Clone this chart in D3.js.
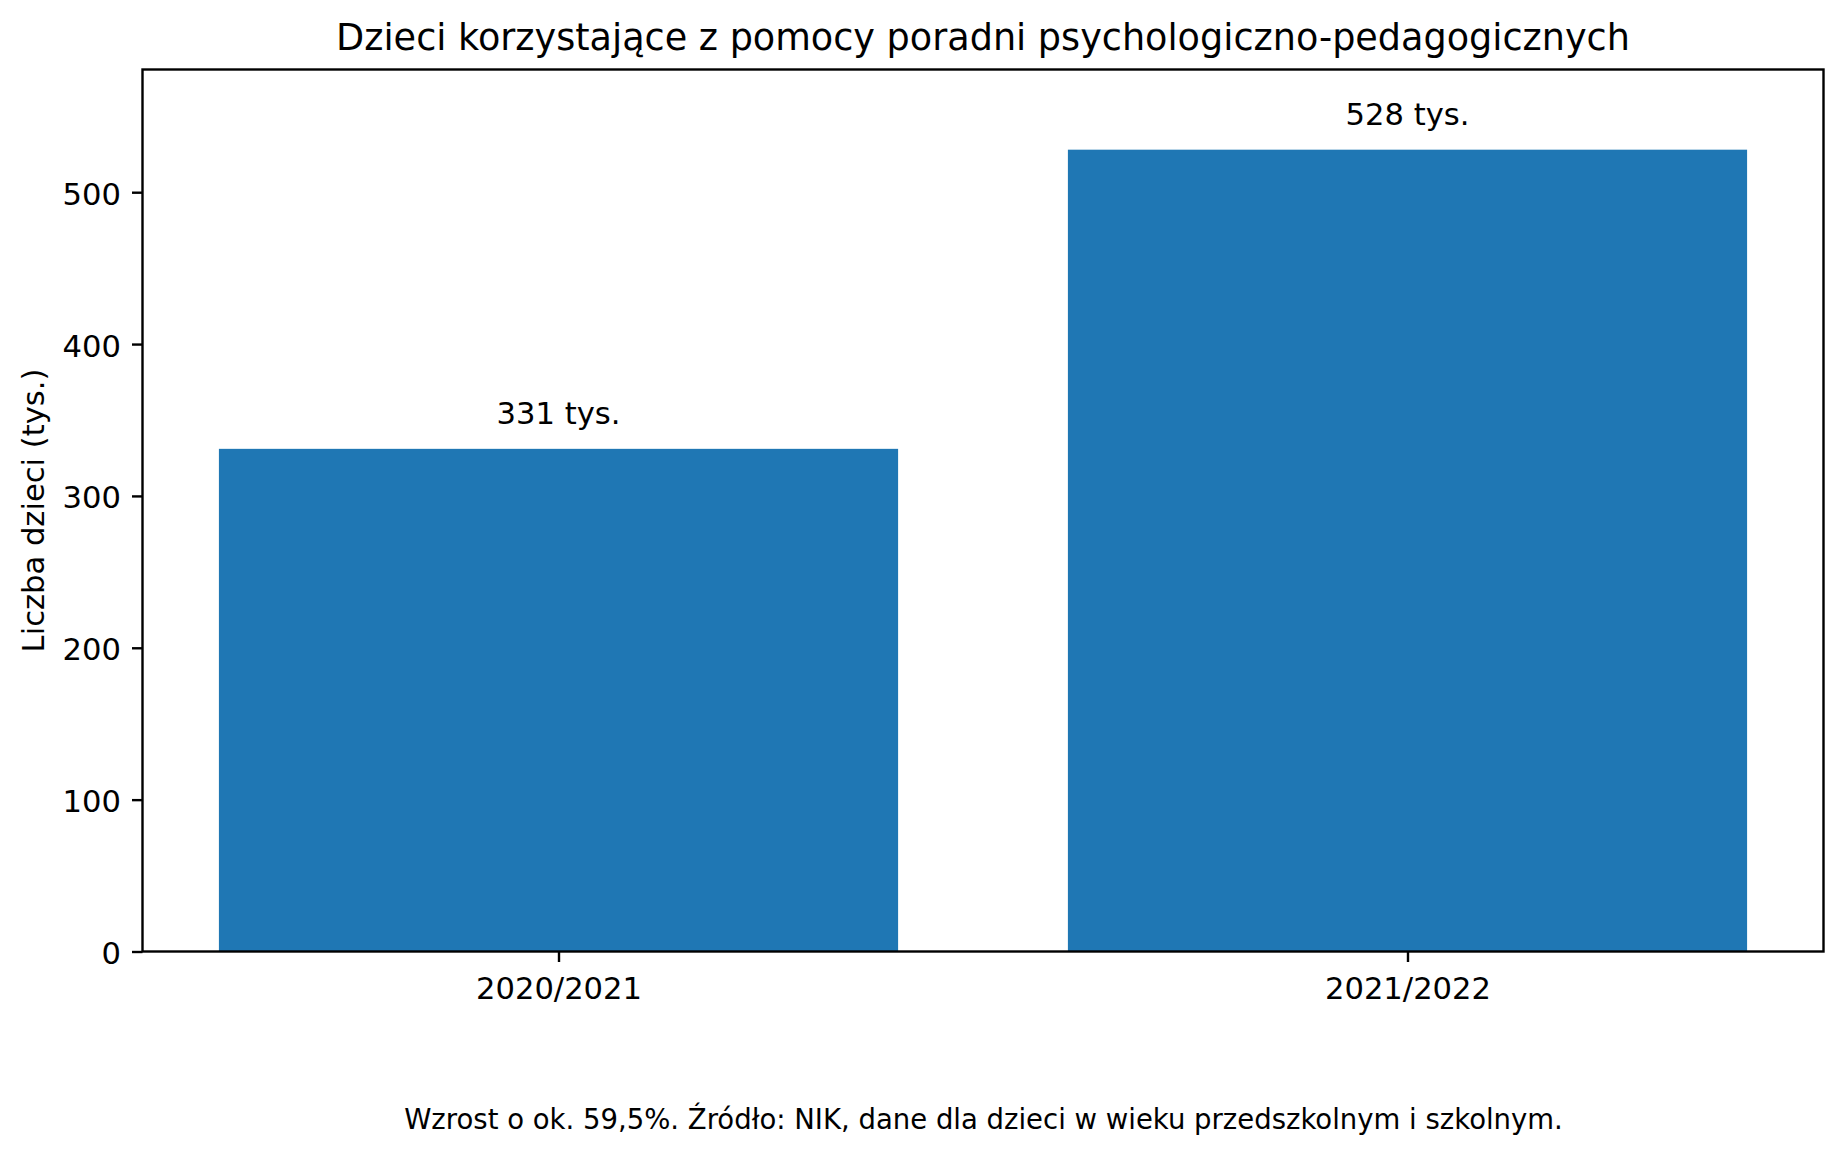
<!DOCTYPE html>
<html>
<head>
<meta charset="utf-8">
<script src="https://cdn.jsdelivr.net/npm/d3@7"></script>
<style>
  html, body { margin: 0; padding: 0; background: #fff; }
  svg { display: block; font-family: "DejaVu Sans", sans-serif; }
</style>
</head>
<body>
<svg id="chart" width="1846" height="1157"></svg>
<script>
const categories = ["2020/2021", "2021/2022"];
const values = [331, 528];
const valueLabels = ["331 tys.", "528 tys."];
const yTicks = [0, 100, 200, 300, 400, 500];
const titleText = "Dzieci korzystające z pomocy poradni psychologiczno-pedagogicznych";
const yLabelText = "Liczba dzieci (tys.)";
const footnoteText = "Wzrost o ok. 59,5%. Źródło: NIK, dane dla dzieci w wieku przedszkolnym i szkolnym.";

const W = 1846, H = 1157;
const L = 142.5, R = 1823.5, T = 69.5, B = 951.5;
const FS = 30.6, FT = 36.6, FF = 27.5, LW = 2.4, TL = 10.5;
const svg = d3.select("#chart");
svg.append("rect").attr("width", W).attr("height", H).attr("fill", "#fff");

const barW = 0.8;
const x = d3.scaleLinear().domain([-0.49, categories.length - 1 + 0.49]).range([L, R]);
const y = d3.scaleLinear().domain([0, d3.max(values) * 1.1]).range([B, T]);

// bars
svg.append("g").selectAll("rect").data(values).join("rect")
  .attr("x", (d, i) => x(i - barW / 2))
  .attr("width", (d, i) => x(i + barW / 2) - x(i - barW / 2))
  .attr("y", d => y(d))
  .attr("height", d => y(0) - y(d))
  .attr("fill", "#1f77b4");

// value labels
svg.append("g").selectAll("text").data(values).join("text")
  .attr("x", (d, i) => x(i))
  .attr("y", d => y(d) - 24.5)
  .attr("text-anchor", "middle")
  .attr("font-size", FS)
  .attr("fill", "#000")
  .text((d, i) => valueLabels[i]);

// axes
const xAxis = d3.axisBottom(x).tickValues(categories.map((c, i) => i))
  .tickFormat(i => categories[i]).tickSize(TL).tickPadding(0);
const gx = svg.append("g").attr("transform", `translate(0,${B})`).call(xAxis);
gx.select(".domain").remove();
gx.selectAll(".tick line").attr("stroke", "#000").attr("stroke-width", LW);
gx.selectAll(".tick text").attr("font-size", FS).attr("font-family", "DejaVu Sans")
  .attr("fill", "#000").attr("dy", null).attr("y", 47);

const yAxis = d3.axisLeft(y).tickValues(yTicks).tickFormat(d3.format("d")).tickSize(TL).tickPadding(0);
const gy = svg.append("g").attr("transform", `translate(${L},0)`).call(yAxis);
gy.select(".domain").remove();
gy.selectAll(".tick line").attr("stroke", "#000").attr("stroke-width", LW);
gy.selectAll(".tick text").attr("font-size", FS).attr("font-family", "DejaVu Sans")
  .attr("fill", "#000").attr("dy", null).attr("x", -21.5).attr("y", 12);

// frame
svg.append("rect").attr("x", L).attr("y", T).attr("width", R - L).attr("height", B - T)
  .attr("fill", "none").attr("stroke", "#000").attr("stroke-width", LW);

// title
svg.append("text").attr("x", (L + R) / 2).attr("y", 50).attr("text-anchor", "middle")
  .attr("font-size", FT).attr("fill", "#000").text(titleText);

// y label
svg.append("text").attr("transform", `translate(43.5,${(T + B) / 2}) rotate(-90)`)
  .attr("text-anchor", "middle").attr("font-size", FS).attr("fill", "#000").text(yLabelText);

// footnote
svg.append("text").attr("x", 983.5).attr("y", 1129).attr("text-anchor", "middle")
  .attr("font-size", FF).attr("fill", "#000").text(footnoteText);
</script>
</body>
</html>
